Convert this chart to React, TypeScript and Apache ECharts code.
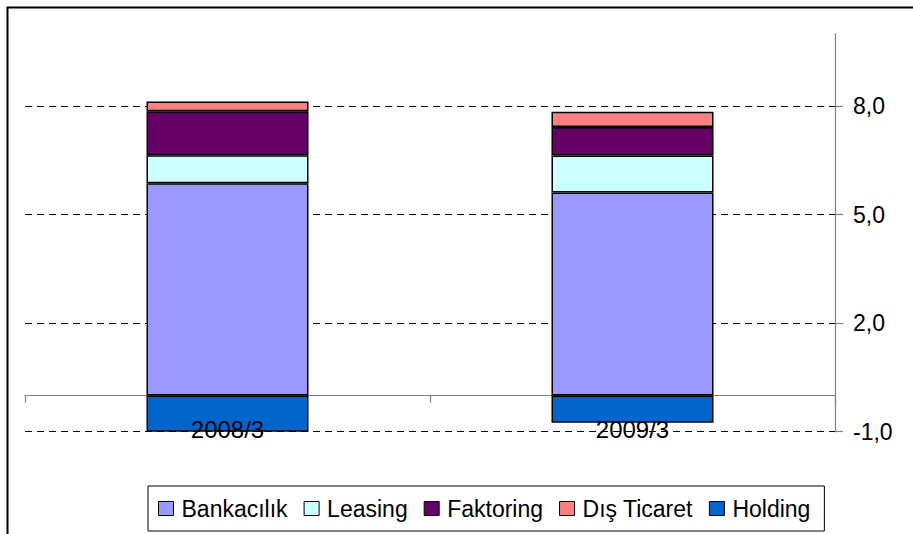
import React, { useEffect, useRef } from "react";
import * as echarts from "echarts";

const categories = ["2008/3", "2009/3"];
const bankacilik = [5.86, 5.61];
const leasing = [0.78, 1.02];
const faktoring = [1.21, 0.79];
const disTicaret = [0.27, 0.42];
const holding = [-1.0, -0.75];
const yTicks = [-1, 2, 5, 8];

const seriesDefs = [
  { name: "Bankacılık", data: bankacilik, color: "#9999FF" },
  { name: "Leasing", data: leasing, color: "#CCFFFF" },
  { name: "Faktoring", data: faktoring, color: "#660066" },
  { name: "Dış Ticaret", data: disTicaret, color: "#FF8080" },
  { name: "Holding", data: holding, color: "#0066CC" },
];

const FONT = "'Liberation Sans', Arial, sans-serif";

export default function App() {
  const ref = useRef<HTMLDivElement>(null);
  useEffect(() => {
    if (!ref.current) return;
    const chart = echarts.init(ref.current, null, { renderer: "svg" });
    chart.setOption({
      animation: false,
      backgroundColor: "#ffffff",
      textStyle: { fontFamily: FONT },
      graphic: [
        {
          type: "rect",
          shape: { x: 7.5, y: 7.5, width: 1000, height: 1000 },
          style: { fill: "none", stroke: "#000", lineWidth: 2 },
          z: 100,
        },
      ],
      grid: {
        left: 25,
        right: 78,
        top: 33.5,
        bottom: 102.3,
        containLabel: false,
        outerBoundsMode: "none",
      },
      legend: {
        left: 148,
        top: 486,
        orient: "horizontal",
        icon: "rect",
        itemWidth: 15,
        itemHeight: 14,
        itemGap: 16,
        padding: [11, 14, 11, 10],
        borderColor: "#000",
        borderWidth: 1,
        itemStyle: { borderColor: "#000", borderWidth: 1 },
        textStyle: {
          fontFamily: FONT,
          fontSize: 23,
          color: "#000",
          padding: [0, 0, 0, 3],
        },
        data: seriesDefs.map((s) => s.name),
      },
      xAxis: [
        {
          type: "category",
          data: categories,
          position: "bottom",
          z: 0,
          axisLine: {
            show: true,
            onZero: true,
            onZeroAxisIndex: 0,
            lineStyle: { color: "#808080", width: 1.2 },
          },
          axisTick: {
            show: true,
            alignWithLabel: false,
            inside: false,
            length: 7,
            lineStyle: { color: "#808080", width: 1.2 },
          },
          axisLabel: { show: false },
          splitLine: { show: false },
        },
        {
          type: "category",
          data: categories,
          position: "bottom",
          z: 10,
          axisLine: { show: false, onZero: false },
          axisTick: { show: false },
          axisLabel: {
            show: true,
            margin: -14,
            fontSize: 24,
            color: "#000",
            fontFamily: FONT,
          },
          splitLine: { show: false },
        },
      ],
      yAxis: {
        type: "value",
        position: "right",
        min: -1,
        max: 10,
        axisLine: { show: true, lineStyle: { color: "#808080", width: 1.2 } },
        axisTick: {
          show: true,
          inside: false,
          length: 8,
          customValues: yTicks,
          lineStyle: { color: "#808080", width: 1.2 },
        },
        axisLabel: {
          show: true,
          customValues: yTicks,
          margin: 18,
          fontSize: 23,
          color: "#000",
          fontFamily: FONT,
          formatter: (v: number) => v.toFixed(1).replace(".", ","),
        },
        splitLine: {
          show: true,
          lineStyle: { color: "#000", type: [7, 5], width: 1 },
        },
      },
      series: seriesDefs.map((s) => ({
        name: s.name,
        type: "bar",
        stack: "total",
        xAxisIndex: 0,
        barWidth: "40%",
        data: s.data,
        itemStyle: { color: s.color, borderColor: "#000", borderWidth: 1.5 },
        emphasis: { disabled: true },
      })),
    });
    return () => chart.dispose();
  }, []);
  return (
    <div
      ref={ref}
      style={{ position: "absolute", left: 0, top: 0, width: 913, height: 534 }}
    />
  );
}
